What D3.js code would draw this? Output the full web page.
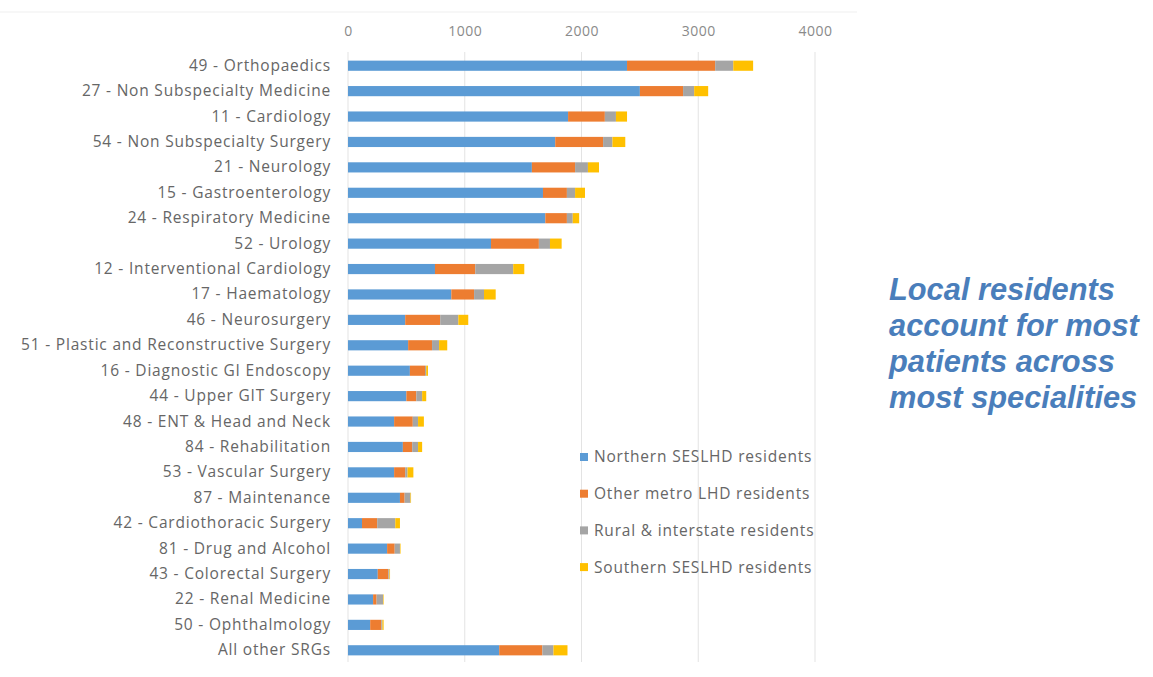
<!DOCTYPE html>
<html><head><meta charset="utf-8">
<script src="https://cdn.jsdelivr.net/npm/d3@7/dist/d3.min.js"></script>
<style>body{margin:0;background:#fff;}svg{display:block;}</style>
</head><body><svg id="c" width="1153" height="677"></svg>
<script>
const categories = ["49 - Orthopaedics","27 - Non Subspecialty Medicine","11 - Cardiology","54 - Non Subspecialty Surgery","21 - Neurology","15 - Gastroenterology","24 - Respiratory Medicine","52 - Urology","12 - Interventional Cardiology","17 - Haematology","46 - Neurosurgery","51 - Plastic and Reconstructive Surgery","16 - Diagnostic GI Endoscopy","44 - Upper GIT Surgery","48 - ENT & Head and Neck","84 - Rehabilitation","53 - Vascular Surgery","87 - Maintenance","42 - Cardiothoracic Surgery","81 - Drug and Alcohol","43 - Colorectal Surgery","22 - Renal Medicine","50 - Ophthalmology","All other SRGs"];
const seriesNames = ["Northern SESLHD residents","Other metro LHD residents","Rural & interstate residents","Southern SESLHD residents"];
const northern = [2390,2500,1885,1775,1575,1670,1690,1225,745,885,490,515,530,500,395,470,395,445,120,335,255,215,190,1295];
const otherMetro = [755,370,315,410,370,205,185,410,345,195,300,205,130,85,160,80,95,40,130,65,90,30,95,370];
const rural = [155,95,95,80,110,70,50,95,325,85,155,60,10,50,45,50,20,50,155,45,10,55,10,95];
const southern = [170,120,95,110,95,85,55,100,95,100,85,70,15,35,50,35,50,5,40,5,5,5,10,120];
const xTicks = [0,1000,2000,3000,4000];
const colors = ["#5B9BD5","#ED7D31","#A5A5A5","#FFC000"];
const note = ["Local residents","account for most","patients across","most specialities"];

const svg = d3.select("#c");
const x = d3.scaleLinear().domain([0,4000]).range([348,815]);
const y = d3.scaleBand().domain(categories).range([53,663]).paddingInner(0.6).paddingOuter(0.3);
const FONT = "'Open Sans', Lato, sans-serif";

// top faint border line
svg.append("line").attr("x1",0).attr("x2",857).attr("y1",12).attr("y2",12).attr("stroke","#efefef");

// gridlines
svg.append("g").selectAll("line").data(xTicks).join("line")
  .attr("x1",d=>x(d)).attr("x2",d=>x(d)).attr("y1",52).attr("y2",662)
  .attr("stroke","#e3e3e3").attr("stroke-width",1);

// top axis
const ax = svg.append("g").attr("transform","translate(0,36)")
  .call(d3.axisTop(x).tickValues(xTicks).tickSize(0).tickPadding(0).tickFormat(d3.format("d")));
ax.select(".domain").remove();
ax.selectAll("text").attr("font-family",FONT).attr("font-size",14).attr("letter-spacing","0.5px").attr("fill","#8a8a8a");

// stacked bars
const rows = categories.map((c,i)=>({cat:c,v:[northern[i],otherMetro[i],rural[i],southern[i]]}));
const data = rows.map(r=>{const o={cat:r.cat}; seriesNames.forEach((s,k)=>o[s]=r.v[k]); return o;});
const stack = d3.stack().keys(seriesNames)(data);
svg.append("g").selectAll("g").data(stack).join("g").attr("fill",(d,i)=>colors[i])
  .selectAll("rect").data(d=>d).join("rect")
  .attr("x",d=>x(d[0])).attr("width",d=>x(d[1])-x(d[0]))
  .attr("y",d=>y(d.data.cat)).attr("height",y.bandwidth());

// category axis
const ay = svg.append("g").attr("transform","translate(331,0)")
  .call(d3.axisLeft(y).tickSize(0).tickPadding(0));
ay.select(".domain").remove();
ay.selectAll("text").attr("font-family",FONT).attr("font-size",15.5).attr("letter-spacing","0.8px").attr("fill","#666666");

// legend
const lg = svg.append("g").selectAll("g").data(seriesNames).join("g")
  .attr("transform",(d,i)=>`translate(580,${457+i*36.7})`);
lg.append("rect").attr("x",0).attr("y",-4).attr("width",8).attr("height",8).attr("fill",(d,i)=>colors[i]);
lg.append("text").attr("x",14).attr("dy","0.35em").text(d=>d)
  .attr("font-family",FONT).attr("font-size",15.5).attr("letter-spacing","0.8px").attr("fill","#666666");

// annotation
svg.append("g").selectAll("text").data(note).join("text")
  .attr("x",889).attr("y",(d,i)=>300+i*36).text(d=>d)
  .attr("font-family","'Liberation Sans', Arial, sans-serif").attr("font-weight","bold").attr("font-style","italic")
  .attr("font-size",30.8).attr("fill","#4A7EBB");
</script></body></html>
